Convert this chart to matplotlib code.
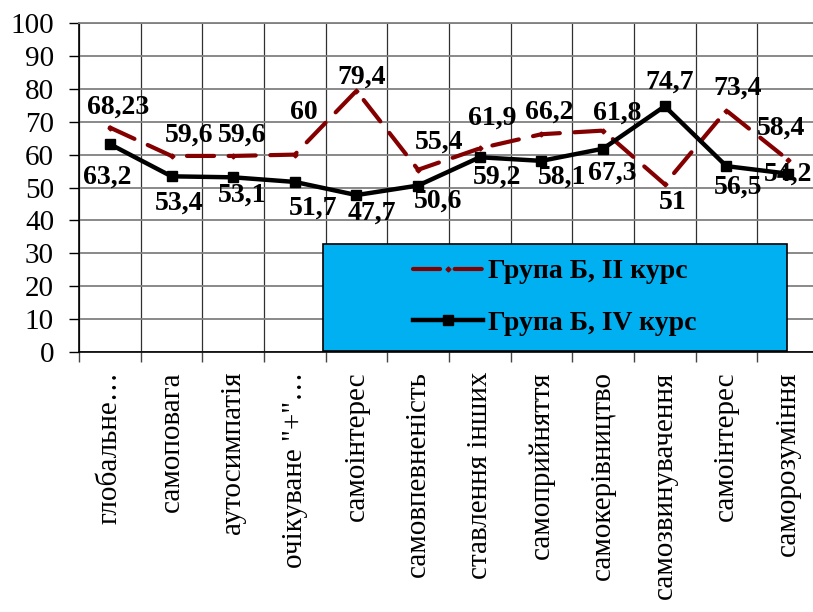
import matplotlib.pyplot as plt
from matplotlib.patches import Rectangle

CATEGORIES = [
    "глобальне…",
    "самоповага",
    "аутосимпатія",
    "очікуване \"+\"…",
    "самоінтерес",
    "самовпевненість",
    "ставлення інших",
    "самоприйняття",
    "самокерівництво",
    "самозвинувачення",
    "самоінтерес",
    "саморозуміння",
]
COURSE_II = [68.23, 59.6, 59.6, 60, 79.4, 55.4, 61.9, 66.2, 67.3, 51, 73.4, 58.4]
COURSE_IV = [63.2, 53.4, 53.1, 51.7, 47.7, 50.6, 59.2, 58.1, 61.8, 74.7, 56.5, 54.2]
LABEL_II = ["68,23", "59,6", "59,6", "60", "79,4", "55,4", "61,9", "66,2", "67,3", "51", "73,4", "58,4"]
LABEL_IV = ["63,2", "53,4", "53,1", "51,7", "47,7", "50,6", "59,2", "58,1", "61,8", "74,7", "56,5", "54,2"]
NAME_II = "Група Б, II курс"
NAME_IV = "Група Б, IV курс"

# label offsets from the point, in pixels (right, down)
OFFS_II = [(8, -20), (18, -21), (9, -21), (9, -42), (5, -14), (21, -28),
           (12, -30), (8, -22), (9, 43), (8, 18), (11, -22), (-7, -32)]
OFFS_IV = [(-3, 33), (8, 27), (9, 18), (18, 26), (15, 18), (20, 16),
           (17, 20), (21, 16), (14, -36), (5, -24), (12, 21), (0, 0)]

RED = "#840000"
BLUE = "#00B0F0"
PX = 0.72  # points per pixel at dpi 100

plt.rcParams["font.family"] = ["Liberation Serif", "DejaVu Serif"]


def main() -> None:
    fig = plt.figure(figsize=(8.13, 6.12), dpi=100)
    ax = fig.add_axes([0.0972, 0.4248, 0.910, 0.5376])

    x = [i + 0.5 for i in range(len(CATEGORIES))]

    ax.plot(x, COURSE_II, color=RED, lw=3.0, dashes=(6.5, 3.5),
            dash_capstyle="round", marker="D", markersize=2.5,
            label=NAME_II, zorder=3)
    ax.plot(x, COURSE_IV, color="black", lw=3.2, marker="s", markersize=6.5,
            label=NAME_IV, zorder=3)

    for xi, v, t, (dx, dy) in zip(x, COURSE_II, LABEL_II, OFFS_II):
        ax.annotate(t, (xi, v), xytext=(dx * PX, -dy * PX), textcoords="offset points",
                    ha="center", va="center", fontsize=20, fontweight="bold", zorder=6)
    for xi, v, t, (dx, dy) in zip(x, COURSE_IV, LABEL_IV, OFFS_IV):
        ax.annotate(t, (xi, v), xytext=(dx * PX, -dy * PX), textcoords="offset points",
                    ha="center", va="center", fontsize=20, fontweight="bold", zorder=6)

    ax.set_xlim(0, len(CATEGORIES))
    ax.set_ylim(0, 100)
    ax.set_yticks(range(0, 101, 10))
    ax.set_xticks(range(len(CATEGORIES) + 1))
    ax.set_xticklabels([])
    ax.set_xticks(x, minor=True)
    ax.set_xticklabels(CATEGORIES, minor=True, rotation=90, fontsize=21)
    ax.tick_params(axis="x", which="major", length=7, width=1, color="#444444")
    ax.tick_params(axis="x", which="minor", length=0, pad=14)
    ax.tick_params(axis="y", length=7, width=1, pad=11, labelsize=21)

    ax.grid(axis="y", color="#808080", lw=1.3, zorder=0)
    ax.grid(axis="x", which="major", color="#303030", lw=0.9, zorder=0)
    ax.set_axisbelow(True)
    for s in ("top", "right"):
        ax.spines[s].set_color("#808080")
        ax.spines[s].set_linewidth(1.3)
    ax.spines["left"].set_linewidth(1.2)
    ax.spines["bottom"].set_linewidth(1.2)

    box = Rectangle((0.33, 0.003), 0.627, 0.325, transform=ax.transAxes,
                    facecolor=BLUE, edgecolor="black", lw=1.2, zorder=4)
    ax.add_patch(box)
    leg = ax.legend(loc="center", bbox_to_anchor=(0.6435, 0.1655), frameon=False,
                    prop={"size": 20, "weight": "bold"}, handlelength=2.5,
                    handletextpad=0.2, labelspacing=0.95)
    leg.set_zorder(5)

    fig.savefig("out.png", dpi=100)


if __name__ == "__main__":
    main()
